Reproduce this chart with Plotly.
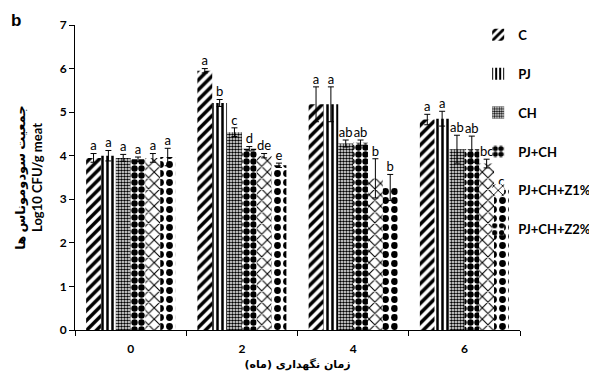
import plotly.graph_objects as go

groups = ["0", "2", "4", "6"]
series = ["C", "PJ", "CH", "PJ+CH", "PJ+CH+Z1%", "PJ+CH+Z2%"]

val_C = [3.95, 5.95, 5.18, 4.83]
val_PJ = [4.00, 5.21, 5.18, 4.85]
val_CH = [3.95, 4.54, 4.28, 4.15]
val_PJCH = [3.92, 4.16, 4.30, 4.15]
val_Z1 = [3.95, 4.00, 3.48, 3.82]
val_Z2 = [3.97, 3.78, 3.27, 3.22]

err_C = [0.10, 0.05, 0.40, 0.12]
err_PJ = [0.12, 0.08, 0.40, 0.17]
err_CH = [0.08, 0.10, 0.08, 0.32]
err_PJCH = [0.05, 0.05, 0.06, 0.30]
err_Z1 = [0.10, 0.05, 0.45, 0.10]
err_Z2 = [0.20, 0.05, 0.30, 0.02]

let_C = ["a", "a", "a", "a"]
let_PJ = ["a", "b", "a", "a"]
let_CH = ["a", "c", "ab", "ab"]
let_PJCH = ["a", "d", "ab", "ab"]
let_Z1 = ["a", "de", "b", "bc"]
let_Z2 = ["a", "e", "b", "c"]

values = [val_C, val_PJ, val_CH, val_PJCH, val_Z1, val_Z2]
errors = [err_C, err_PJ, err_CH, err_PJCH, err_Z1, err_Z2]
letters = [let_C, let_PJ, let_CH, let_PJCH, let_Z1, let_Z2]

patterns = [
    dict(shape="/", size=7, solidity=0.5),
    dict(shape="|", size=5, solidity=0.5),
    dict(shape=".", size=3, solidity=0.55),
    dict(shape=".", size=7, solidity=0.65),
    dict(shape="x", size=8, solidity=0.25),
    dict(shape=".", size=9, solidity=0.45),
]

bw = 0.8 / len(series)
fig = go.Figure()
for i, name in enumerate(series):
    xs = [g + (i - (len(series) - 1) / 2) * bw for g in range(len(groups))]
    pat = dict(patterns[i], fgcolor="black", bgcolor="white", fillmode="replace")
    fig.add_trace(go.Bar(
        x=xs, y=values[i], width=bw, name=name,
        marker=dict(color="white", pattern=pat, line=dict(width=0)),
        error_y=dict(type="data", array=errors[i], color="black", thickness=1, width=3),
        legendgroup=name,
    ))
    fig.add_trace(go.Scatter(
        x=xs, y=[v + e for v, e in zip(values[i], errors[i])], mode="text",
        text=letters[i], textposition="top center",
        textfont=dict(family="Lato, Liberation Sans, sans-serif", size=13, color="black"),
        showlegend=False, hoverinfo="skip", cliponaxis=False,
    ))

fig.update_layout(
    width=597, height=383,
    margin=dict(l=67, r=85, t=17, b=61, autoexpand=False),
    plot_bgcolor="white", paper_bgcolor="white",
    barmode="overlay",
    font=dict(family="Lato, DejaVu Sans, sans-serif", color="black"),
    legend=dict(
        x=0.906, y=1.017, xanchor="left", yanchor="top",
        font=dict(size=13, weight="bold"), tracegroupgap=19,
        itemwidth=30, bgcolor="rgba(0,0,0,0)", maxheight=370,
    ),
    showlegend=True,
)
fig.update_xaxes(
    range=[-0.5, 3.5], tickvals=list(range(len(groups))), ticktext=groups,
    ticks="", showline=True, linecolor="black", linewidth=1,
    showgrid=False, zeroline=False, ticklabelstandoff=8,
    tickfont=dict(size=12, weight="bold"),
    minor=dict(ticks="outside", ticklen=5, tick0=0.5, dtick=1, tickcolor="black", showgrid=False),
    title=dict(text="زمان نگهداری (ماه)", font=dict(size=11, weight="bold", family="DejaVu Sans"), standoff=4),
)
fig.update_yaxes(
    range=[0, 7], dtick=1, ticks="outside", ticklen=5, tickcolor="black",
    showline=True, linecolor="black", linewidth=1, showgrid=False, zeroline=False,
    tickfont=dict(size=12, weight="bold"),
    title=dict(text="جمعیت سودوموناس ها<br>Log10 CFU/g meat",
               font=dict(size=13, weight="bold", family="Lato, DejaVu Sans"), standoff=14),
)
fig.add_annotation(text="b", xref="paper", yref="paper", x=-0.148, y=1.052,
                   xanchor="left", yanchor="top", showarrow=False,
                   font=dict(size=17, weight="bold", family="Liberation Sans"))

fig.write_html("out.html")
